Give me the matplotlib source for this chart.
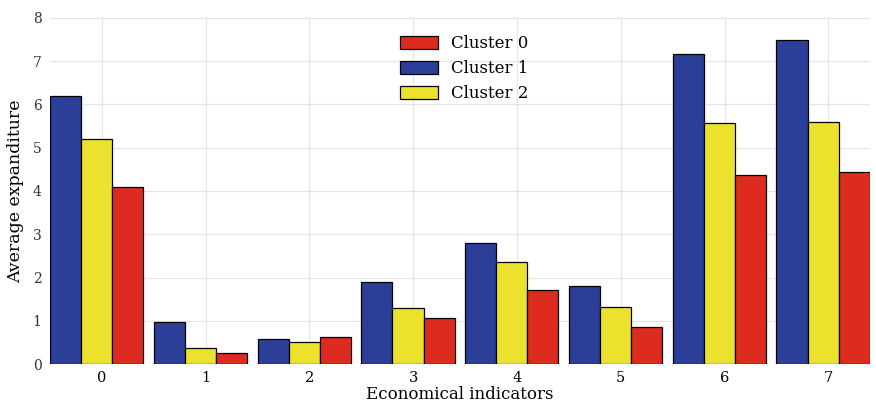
import matplotlib
matplotlib.use('Agg')
import matplotlib.pyplot as plt
import numpy as np

# values
indicators = ['0', '1', '2', '3', '4', '5', '6', '7']
cluster0 = [4.10, 0.25, 0.63, 1.06, 1.72, 0.85, 4.37, 4.44]
cluster1 = [6.19, 0.97, 0.58, 1.89, 2.80, 1.80, 7.17, 7.49]
cluster2 = [5.20, 0.37, 0.52, 1.29, 2.37, 1.33, 5.57, 5.60]

plt.rcParams['font.family'] = ['DejaVu Serif']

fig = plt.figure(figsize=(8.76, 4.05), dpi=100)
ax = fig.add_axes([0.057, 0.101, 0.936, 0.855])

x = np.arange(len(indicators))
w = 0.3
# order inside a group: cluster 1, cluster 2, cluster 0
b1 = ax.bar(x - 0.35, cluster1, w, color='#2b3f99', edgecolor='black', linewidth=0.9, label='Cluster 1', zorder=3)
b2 = ax.bar(x - 0.05, cluster2, w, color='#ece22e', edgecolor='black', linewidth=0.9, label='Cluster 2', zorder=3)
b0 = ax.bar(x + 0.25, cluster0, w, color='#dd2c1f', edgecolor='black', linewidth=0.9, label='Cluster 0', zorder=3)

ax.set_xlim(-0.5, 7.4)
ax.set_ylim(0, 8)
ax.set_xticks(x)
ax.set_xticklabels(indicators, fontsize=10.5)
ax.set_yticks(range(0, 9))
ax.tick_params(axis='y', labelsize=10, length=0, pad=6, colors='#333333')
ax.tick_params(axis='x', length=0, pad=5)

ax.grid(True, color='#e4e4e4', linewidth=0.8, zorder=0)
for s in ax.spines.values():
    s.set_visible(False)
ax.axhline(0, color='#cfcfcf', linewidth=0.8, zorder=1)

ax.set_xlabel('Economical indicators', fontsize=12, labelpad=1)
ax.set_ylabel('Average expanditure', fontsize=12.5, labelpad=6)

ax.legend([b0, b1, b2], ['Cluster 0', 'Cluster 1', 'Cluster 2'],
          loc='upper left', bbox_to_anchor=(0.439, 0.95), bbox_transform=fig.transFigure,
          frameon=False, fontsize=12, handlelength=2.3, handleheight=0.8,
          labelspacing=0.48, handletextpad=0.8)

plt.savefig('out.png', dpi=100)
